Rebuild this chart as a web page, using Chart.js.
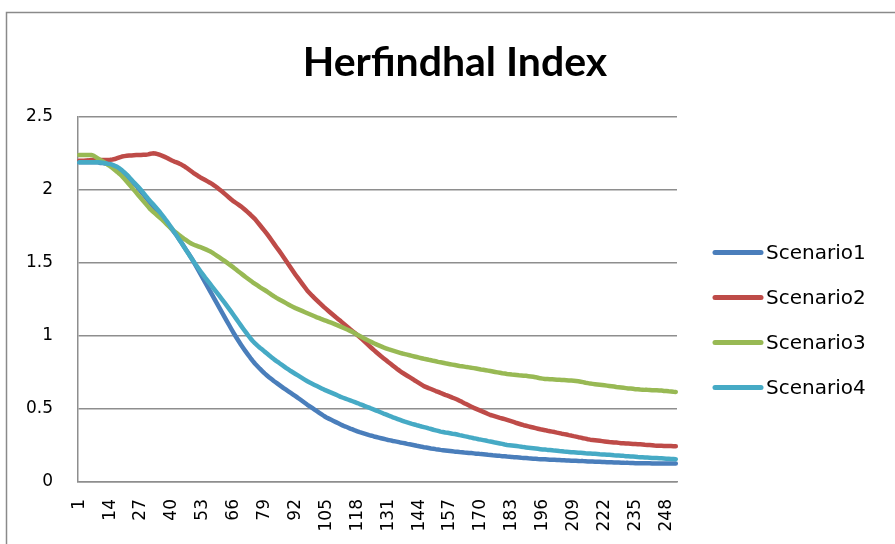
<!DOCTYPE html>
<html>
<head>
<meta charset="utf-8">
<title>Herfindhal Index</title>
<script src="https://cdn.jsdelivr.net/npm/chart.js@4.4.1/dist/chart.umd.min.js"></script>
<style>
  html, body { margin: 0; padding: 0; background: #ffffff; }
  #wrap { width: 895px; height: 544px; position: relative; }
</style>
</head>
<body>
<div id="wrap"><canvas id="chart" width="895" height="544"></canvas></div>
<script>
// Periods 1..252 on the category axis
const categories = Array.from({ length: 252 }, (_, i) => String(i + 1));
const tickEvery = 13;

const chartTitle = 'Herfindhal Index';
const seriesNames = ['Scenario1', 'Scenario2', 'Scenario3', 'Scenario4'];

const scenario1 = [
  2.19,2.19,2.19,2.19,2.19,2.19,2.19,2.19,2.19,2.185,
  2.185,2.18,2.18,2.175,2.17,2.16,2.15,2.14,2.125,2.11,
  2.095,2.08,2.065,2.045,2.03,2.01,1.99,1.97,1.95,1.93,
  1.91,1.89,1.87,1.85,1.83,1.81,1.79,1.77,1.75,1.73,
  1.71,1.69,1.665,1.64,1.615,1.59,1.565,1.54,1.512,1.483,
  1.454,1.425,1.396,1.367,1.338,1.309,1.28,1.251,1.222,1.193,
  1.164,1.135,1.106,1.077,1.048,1.02,0.993,0.967,0.942,0.918,
  0.895,0.873,0.851,0.83,0.81,0.793,0.776,0.76,0.744,0.73,
  0.716,0.703,0.69,0.679,0.667,0.655,0.643,0.632,0.621,0.61,
  0.599,0.588,0.576,0.565,0.553,0.541,0.529,0.518,0.507,0.496,
  0.485,0.474,0.463,0.452,0.442,0.434,0.426,0.418,0.41,0.402,
  0.394,0.386,0.38,0.373,0.366,0.36,0.353,0.347,0.341,0.336,
  0.331,0.326,0.321,0.317,0.312,0.308,0.304,0.3,0.296,0.292,
  0.288,0.285,0.281,0.278,0.275,0.271,0.268,0.265,0.261,0.258,
  0.255,0.252,0.248,0.245,0.242,0.238,0.236,0.233,0.23,0.228,
  0.225,0.223,0.22,0.218,0.216,0.214,0.212,0.21,0.208,0.207,
  0.205,0.204,0.202,0.201,0.199,0.198,0.196,0.194,0.193,0.191,
  0.19,0.188,0.186,0.185,0.183,0.182,0.18,0.179,0.177,0.176,
  0.174,0.173,0.172,0.17,0.169,0.168,0.166,0.165,0.164,0.162,
  0.161,0.16,0.159,0.157,0.156,0.155,0.155,0.154,0.153,0.152,
  0.152,0.151,0.15,0.149,0.149,0.148,0.147,0.146,0.145,0.145,
  0.144,0.143,0.143,0.142,0.141,0.141,0.14,0.139,0.139,0.138,
  0.137,0.137,0.136,0.135,0.135,0.134,0.134,0.133,0.132,0.132,
  0.131,0.131,0.13,0.13,0.129,0.129,0.128,0.128,0.128,0.128,
  0.128,0.127,0.127,0.127,0.127,0.127,0.127,0.127,0.127,0.127,
  0.126,0.126
];

const scenario2 = [
  2.2,2.2,2.2,2.202,2.203,2.205,2.205,2.205,2.205,2.205,
  2.205,2.205,2.206,2.207,2.209,2.212,2.218,2.224,2.229,2.232,
  2.234,2.236,2.237,2.238,2.239,2.24,2.24,2.241,2.242,2.244,
  2.248,2.251,2.25,2.246,2.24,2.234,2.227,2.219,2.21,2.202,
  2.195,2.189,2.182,2.174,2.165,2.154,2.142,2.13,2.118,2.107,
  2.096,2.086,2.077,2.068,2.059,2.05,2.04,2.029,2.017,2.004,
  1.991,1.977,1.963,1.949,1.935,1.922,1.911,1.9,1.888,1.875,
  1.861,1.847,1.832,1.816,1.8,1.78,1.76,1.74,1.72,1.699,
  1.677,1.654,1.631,1.608,1.586,1.563,1.539,1.515,1.491,1.467,
  1.443,1.42,1.398,1.376,1.354,1.332,1.31,1.293,1.276,1.26,
  1.244,1.228,1.213,1.198,1.184,1.17,1.156,1.142,1.128,1.115,
  1.102,1.088,1.074,1.06,1.046,1.033,1.02,1.007,0.993,0.978,
  0.963,0.948,0.933,0.918,0.903,0.889,0.875,0.861,0.848,0.835,
  0.822,0.81,0.797,0.784,0.771,0.759,0.748,0.738,0.728,0.718,
  0.708,0.697,0.687,0.677,0.667,0.657,0.65,0.643,0.637,0.63,
  0.623,0.617,0.61,0.604,0.597,0.591,0.585,0.578,0.572,0.565,
  0.557,0.549,0.54,0.532,0.524,0.516,0.508,0.501,0.494,0.487,
  0.48,0.473,0.466,0.459,0.454,0.449,0.444,0.439,0.435,0.43,
  0.425,0.42,0.415,0.41,0.404,0.399,0.394,0.389,0.385,0.381,
  0.377,0.373,0.369,0.365,0.361,0.358,0.355,0.351,0.348,0.345,
  0.342,0.338,0.335,0.331,0.328,0.325,0.321,0.318,0.314,0.311,
  0.307,0.304,0.3,0.297,0.293,0.29,0.288,0.286,0.284,0.282,
  0.28,0.278,0.276,0.274,0.273,0.271,0.27,0.268,0.266,0.265,
  0.264,0.263,0.262,0.261,0.26,0.259,0.258,0.257,0.255,0.254,
  0.253,0.252,0.25,0.249,0.248,0.248,0.247,0.247,0.246,0.246,
  0.245,0.245
];

const scenario3 = [
  2.24,2.24,2.24,2.24,2.24,2.24,2.235,2.225,2.215,2.205,
  2.195,2.185,2.173,2.163,2.15,2.137,2.124,2.11,2.095,2.077,
  2.058,2.039,2.02,2.001,1.982,1.962,1.943,1.924,1.905,1.886,
  1.867,1.852,1.838,1.824,1.81,1.796,1.78,1.763,1.747,1.732,
  1.718,1.705,1.692,1.679,1.667,1.656,1.645,1.634,1.627,1.62,
  1.614,1.608,1.602,1.595,1.588,1.58,1.571,1.56,1.549,1.538,
  1.527,1.516,1.504,1.492,1.48,1.468,1.455,1.442,1.43,1.417,
  1.404,1.392,1.38,1.368,1.357,1.346,1.335,1.325,1.315,1.305,
  1.293,1.282,1.271,1.261,1.252,1.243,1.234,1.225,1.216,1.207,
  1.199,1.191,1.184,1.177,1.17,1.163,1.156,1.149,1.142,1.135,
  1.128,1.122,1.115,1.109,1.103,1.097,1.091,1.085,1.078,1.071,
  1.064,1.057,1.05,1.043,1.035,1.027,1.018,1.009,1.0,0.991,
  0.982,0.974,0.966,0.958,0.95,0.943,0.936,0.929,0.922,0.916,
  0.91,0.905,0.9,0.895,0.89,0.885,0.88,0.876,0.872,0.868,
  0.864,0.86,0.856,0.852,0.848,0.844,0.841,0.837,0.834,0.83,
  0.827,0.823,0.82,0.817,0.813,0.81,0.807,0.804,0.801,0.798,
  0.795,0.793,0.79,0.787,0.785,0.782,0.78,0.777,0.774,0.771,
  0.769,0.766,0.763,0.76,0.757,0.754,0.751,0.748,0.745,0.743,
  0.74,0.738,0.736,0.735,0.733,0.731,0.73,0.728,0.727,0.725,
  0.723,0.721,0.718,0.714,0.71,0.708,0.706,0.705,0.704,0.703,
  0.702,0.701,0.7,0.699,0.698,0.697,0.696,0.695,0.694,0.692,
  0.69,0.687,0.684,0.68,0.677,0.674,0.672,0.67,0.668,0.666,
  0.664,0.662,0.66,0.658,0.656,0.654,0.651,0.649,0.647,0.645,
  0.643,0.641,0.64,0.638,0.636,0.635,0.633,0.632,0.631,0.631,
  0.63,0.629,0.629,0.628,0.627,0.626,0.624,0.623,0.621,0.62,
  0.618,0.617
];

const scenario4 = [
  2.19,2.19,2.19,2.19,2.19,2.19,2.19,2.19,2.19,2.188,
  2.186,2.184,2.18,2.178,2.172,2.165,2.158,2.148,2.135,2.12,
  2.105,2.088,2.07,2.052,2.035,2.018,2.0,1.98,1.96,1.94,
  1.922,1.904,1.885,1.866,1.847,1.826,1.805,1.783,1.76,1.737,
  1.713,1.688,1.663,1.638,1.613,1.588,1.563,1.538,1.514,1.49,
  1.467,1.444,1.422,1.4,1.379,1.358,1.337,1.316,1.295,1.274,
  1.253,1.232,1.21,1.188,1.165,1.142,1.119,1.096,1.073,1.05,
  1.028,1.006,0.985,0.966,0.949,0.934,0.92,0.907,0.893,0.88,
  0.866,0.853,0.84,0.828,0.817,0.805,0.794,0.782,0.771,0.76,
  0.75,0.74,0.73,0.72,0.71,0.7,0.69,0.681,0.673,0.665,
  0.657,0.649,0.641,0.633,0.626,0.619,0.612,0.605,0.598,0.591,
  0.583,0.577,0.571,0.565,0.559,0.553,0.547,0.541,0.534,0.528,
  0.521,0.515,0.509,0.502,0.496,0.489,0.483,0.476,0.469,0.463,
  0.456,0.45,0.443,0.437,0.431,0.425,0.419,0.413,0.408,0.403,
  0.398,0.394,0.389,0.385,0.38,0.376,0.372,0.367,0.363,0.358,
  0.354,0.35,0.345,0.342,0.339,0.337,0.334,0.331,0.329,0.325,
  0.321,0.318,0.314,0.311,0.307,0.304,0.3,0.297,0.293,0.29,
  0.287,0.284,0.28,0.277,0.274,0.27,0.267,0.264,0.261,0.257,
  0.254,0.252,0.25,0.248,0.246,0.244,0.242,0.239,0.237,0.235,
  0.233,0.231,0.229,0.227,0.225,0.223,0.222,0.22,0.219,0.217,
  0.215,0.214,0.212,0.211,0.209,0.208,0.206,0.204,0.203,0.202,
  0.201,0.2,0.199,0.197,0.196,0.195,0.194,0.193,0.192,0.19,
  0.189,0.188,0.187,0.186,0.185,0.183,0.182,0.181,0.18,0.179,
  0.177,0.176,0.175,0.174,0.173,0.171,0.17,0.169,0.168,0.167,
  0.166,0.165,0.164,0.164,0.163,0.162,0.161,0.16,0.159,0.158,
  0.157,0.156
];

const seriesValues = [scenario1, scenario2, scenario3, scenario4];
const seriesColors = ['#4A7EBB', '#BE4B48', '#98B954', '#46AAC5'];

const gridGrey = '#8e8e8e';
const tickFont = { family: 'DejaVu Sans', size: 17 };

// Outer frame, title and the side legend
const decorations = {
  id: 'decorations',
  beforeDraw(chart) {
    const ctx = chart.ctx;
    ctx.save();
    ctx.fillStyle = '#ffffff';
    ctx.fillRect(0, 0, chart.width, chart.height);
    ctx.strokeStyle = '#8a8a8a';
    ctx.lineWidth = 1.5;
    ctx.beginPath();
    ctx.moveTo(6.5, chart.height);
    ctx.lineTo(6.5, 12.5);
    ctx.lineTo(chart.width, 12.5);
    ctx.stroke();
    ctx.restore();
  },
  afterDraw(chart) {
    const ctx = chart.ctx;
    ctx.save();
    ctx.fillStyle = '#000000';
    ctx.font = 'bold 41px Lato';
    ctx.textAlign = 'center';
    ctx.textBaseline = 'alphabetic';
    ctx.fillText(chartTitle, 455, 76);

    ctx.font = '20px "DejaVu Sans"';
    ctx.textAlign = 'left';
    ctx.textBaseline = 'middle';
    chart.data.datasets.forEach((ds, i) => {
      const y = 252.5 + i * 45;
      ctx.strokeStyle = ds.borderColor;
      ctx.lineWidth = 5;
      ctx.lineCap = 'round';
      ctx.beginPath();
      ctx.moveTo(715, y);
      ctx.lineTo(761, y);
      ctx.stroke();
      ctx.fillStyle = '#000000';
      ctx.fillText(ds.label, 766, y + 1);
    });
    ctx.restore();
  }
};

new Chart(document.getElementById('chart'), {
  type: 'line',
  data: {
    labels: categories,
    datasets: seriesNames.map((name, i) => ({
      label: name,
      data: seriesValues[i],
      borderColor: seriesColors[i],
      backgroundColor: seriesColors[i],
      order: seriesNames.length - i
    }))
  },
  options: {
    responsive: false,
    animation: false,
    devicePixelRatio: 1,
    layout: { padding: { top: 117, right: 218, bottom: 0, left: 0 } },
    elements: {
      point: { radius: 0, hoverRadius: 0 },
      line: { borderWidth: 4.5, tension: 0, borderCapStyle: 'round', borderJoinStyle: 'round' }
    },
    plugins: {
      legend: { display: false },
      title: { display: false },
      tooltip: { enabled: false }
    },
    scales: {
      x: {
        type: 'category',
        offset: true,
        grid: { display: false, drawTicks: false },
        border: { display: true, color: gridGrey, width: 1.5 },
        ticks: {
          autoSkip: false,
          minRotation: 90,
          maxRotation: 90,
          padding: 17,
          color: '#000000',
          font: tickFont,
          callback: function (value, index) {
            return index % tickEvery === 0 ? this.getLabelForValue(value) : null;
          }
        },
        afterFit(scale) { scale.height = 62; }
      },
      y: {
        min: 0,
        max: 2.5,
        grid: { color: gridGrey, lineWidth: 1.5, drawTicks: false },
        border: { display: true, color: gridGrey, width: 1.5 },
        ticks: {
          stepSize: 0.5,
          padding: 25,
          color: '#000000',
          font: tickFont,
          callback: value => String(value)
        },
        afterFit(scale) { scale.width = 78; }
      }
    }
  },
  plugins: [decorations]
});
</script>
</body>
</html>
